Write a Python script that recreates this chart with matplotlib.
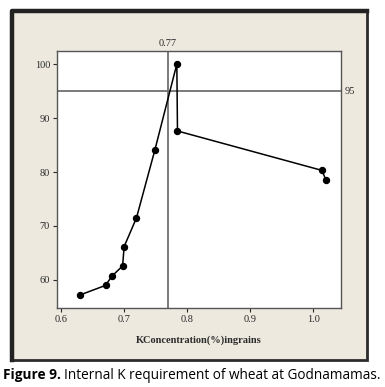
import matplotlib.pyplot as plt
from matplotlib.patches import Rectangle
from matplotlib.lines import Line2D

# K concentration (%) in grains vs relative yield
k_conc = [0.630, 0.671, 0.681, 0.698, 0.7005, 0.720, 0.749, 0.784, 0.785, 1.014, 1.020]
rel_yield = [57.2, 59.0, 60.7, 62.6, 66.2, 71.5, 84.0, 100.0, 87.6, 80.3, 78.6]
crit_k = 0.77
crit_yield = 95
xticks = [0.6, 0.7, 0.8, 0.9, 1.0]
yticks = [60, 70, 80, 90, 100]

fig = plt.figure(figsize=(3.85, 3.87), dpi=100)
fig.patch.set_facecolor('white')

# beige panel behind the plot, heavier edge on left/top
x0, y0, w, h = 0.031, 0.070, 0.922, 0.902
fig.patches.append(Rectangle((x0, y0), w, h, transform=fig.transFigure,
                             facecolor='#ede9df', edgecolor='#2b2b2b', linewidth=2.0, zorder=0))
fig.lines.append(Line2D([x0, x0, x0 + w], [y0, y0 + h, y0 + h], transform=fig.transFigure,
                        color='#222222', lw=3.2, zorder=1))

ax = fig.add_axes([0.148, 0.204, 0.738, 0.664])
ax.set_zorder(2)
ax.set_facecolor('white')
ax.plot(k_conc, rel_yield, color='black', lw=1.1, marker='o', ms=4.3, zorder=3)
ax.axvline(crit_k, color='#707070', lw=1.3, zorder=2)
ax.axhline(crit_yield, color='#707070', lw=1.3, zorder=2)

ax.set_xlim(0.594, 1.0444)
ax.set_ylim(54.8, 102.4)
ax.set_xticks(xticks)
ax.set_xticklabels(['0.6', '0.7', '0.8', '0.9', '1.0'])
ax.set_yticks(yticks)
ax.tick_params(direction='out', length=3, width=0.8, labelsize=7.5, pad=2, colors='#2a2a2a')
for lab in ax.get_xticklabels() + ax.get_yticklabels():
    lab.set_family('Liberation Serif')
for s in ax.spines.values():
    s.set_color('#555555')
    s.set_linewidth(1.0)

ax.text(crit_k, 1.012, '0.77', transform=ax.get_xaxis_transform(), ha='center', va='bottom',
        fontsize=7.5, family='Liberation Serif', color='#2a2a2a')
ax.text(1.012, crit_yield, '95', transform=ax.get_yaxis_transform(), ha='left', va='center',
        fontsize=7.5, family='Liberation Serif', color='#2a2a2a')
ax.set_xlabel('KConcentration(%)ingrains', fontsize=7.5, family='Liberation Serif',
              fontweight='bold', labelpad=8, color='#2a2a2a')

fig.text(0.008, 0.031, 'Figure 9.', fontsize=9.8, fontweight='bold', family='Open Sans',
         va='center', ha='left')
fig.text(0.165, 0.031, 'Internal K requirement of wheat at Godnamamas.', fontsize=9.8,
         family='Open Sans', va='center', ha='left')

fig.savefig('out.png', dpi=100)
